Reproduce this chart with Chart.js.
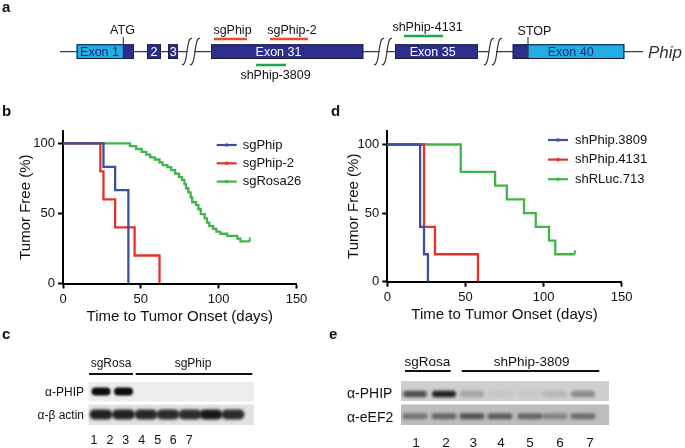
<!DOCTYPE html>
<html>
<head>
<meta charset="utf-8">
<script src="https://cdn.jsdelivr.net/npm/chart.js@4.4.0/dist/chart.umd.min.js"></script>
<style>
  html, body { margin: 0; padding: 0; background: #fff; }
  #fig { position: relative; width: 685px; height: 448px; overflow: hidden;
         font-family: "Liberation Sans", Arial, sans-serif; color: #111; }
  #fig canvas { position: absolute; }
  .t { position: absolute; white-space: nowrap; line-height: 1; }
</style>
</head>
<body>
<div id="fig">
  <canvas id="art" width="685" height="448" style="left:0;top:0"></canvas>
  <canvas id="chartB" width="340" height="210" style="left:0;top:120px"></canvas>
  <canvas id="chartD" width="345" height="210" style="left:340px;top:120px"></canvas>
</div>
<script>
// ---- data ----
const xTicks = [0, 50, 100, 150];
const yTicks = [0, 50, 100];

// panel b
const seriesB = ['sgPhip', 'sgPhip-2', 'sgRosa26'];
const sgPhipDays = [0, 26, 33.5, 42];
const sgPhipFree = [100, 83.3, 66.7, 0];
const sgPhip2Days = [0, 24, 26, 33.5, 46, 62];
const sgPhip2Free = [100, 80, 60, 40, 20, 0];
const sgRosaDays = [0, 43, 47, 50.5, 53.5, 56, 59, 62, 64, 67, 69.5, 72, 74.5, 76.5, 78, 79, 80.5, 82, 83, 85.5,
                    87, 88.5, 91, 92.5, 94, 96.5, 98.5, 101, 105.5, 112, 114, 120];
const sgRosaFree = [100, 98, 96, 94, 92, 90, 88.5, 86.5, 84.5, 83, 81, 78.5, 76, 74, 71, 68, 65, 61.5, 58, 56,
                    53, 49.5, 46.5, 43.5, 41, 39, 37, 35.5, 34, 32, 30, 30];

// panel d
const seriesD = ['shPhip.3809', 'shPhip.4131', 'shRLuc.713'];
const sh3809Days = [0, 21, 23.5, 26];
const sh3809Free = [100, 40, 20, 0];
const sh4131Days = [0, 23.5, 30.5, 58];
const sh4131Free = [100, 40, 20, 0];
const shRLucDays = [0, 47, 69, 76.5, 87.5, 95, 103.5, 107.5, 120];
const shRLucFree = [100, 80, 70, 60, 50, 40, 30, 20, 20];

// blots (band darkness 0..1, lanes 1-7)
const laneLabels = ['1', '2', '3', '4', '5', '6', '7'];
const cPhip = [1, 1, 0, 0, 0, 0, 0];
const cActin = [0.9, 0.9, 0.88, 0.85, 0.85, 0.95, 0.85];
const ePhip = [0.65, 0.9, 0.22, 0.05, 0.03, 0.12, 0.35];
const eEef2 = [0.42, 0.5, 0.6, 0.55, 0.5, 0.32, 0.45];

const colors = ['#3c4fa1', '#e8302a', '#40b54a'];

Chart.defaults.font.family = '"Liberation Sans", Arial, sans-serif';
Chart.defaults.color = '#111';

// legend drawn inside the plot area, GraphPad style
const legendInside = {
  id: 'legendInside',
  afterDatasetsDraw(chart, args, opts) {
    const ctx = chart.ctx;
    ctx.save();
    ctx.font = '13px "Liberation Sans", Arial, sans-serif';
    ctx.textBaseline = 'middle';
    chart.data.datasets.forEach((ds, i) => {
      const y = opts.top + i * opts.gap;
      ctx.strokeStyle = ds.borderColor;
      ctx.lineWidth = 2.2;
      ctx.beginPath();
      ctx.moveTo(opts.left, y);
      ctx.lineTo(opts.left + 20, y);
      ctx.stroke();
      ctx.fillStyle = ds.borderColor;
      ctx.beginPath();
      ctx.arc(opts.left + 10, y, 1.8, 0, Math.PI * 2);
      ctx.fill();
      ctx.fillStyle = '#111';
      ctx.fillText(ds.label, opts.left + opts.textGap, y);
    });
    ctx.restore();
  }
};

function makeDatasets(names, days, free, censorLast) {
  return names.map((name, k) => ({
    label: name,
    data: days[k].map((d, i) => ({ x: d, y: free[k][i] })),
    borderColor: colors[k],
    backgroundColor: colors[k],
    borderWidth: 2.3,
    stepped: 'before',
    fill: false,
    pointStyle: 'dash',
    pointRotation: -90,
    pointRadius: c => (censorLast[k] && c.dataIndex === days[k].length - 1) ? 4 : 0,
    pointBorderWidth: 2,
    pointBorderColor: colors[k],
    pointHoverRadius: 0
  }));
}

function kmChart(id, datasets, yMax, g) {
  return new Chart(document.getElementById(id), {
    type: 'line',
    data: { datasets: datasets },
    options: {
      responsive: false,
      animation: false,
      devicePixelRatio: 1,
      layout: { padding: { left: 0, top: g.top, right: g.right, bottom: 0 } },
      plugins: {
        legend: { display: false },
        tooltip: { enabled: false },
        legendInside: { left: g.legLeft, top: g.legTop, gap: g.legGap, textGap: g.textGap }
      },
      scales: {
        x: {
          type: 'linear', min: 0, max: 150,
          afterBuildTicks: s => { s.ticks = xTicks.map(v => ({ value: v })); },
          afterFit: s => { s.height = g.xH; },
          border: { display: true, color: '#000', width: 2 },
          grid: { display: true, drawOnChartArea: false, drawTicks: true, tickLength: 5, tickWidth: 2, tickColor: '#000' },
          ticks: { color: '#111', font: { size: 13 }, padding: 3, maxRotation: 0 },
          title: { display: true, text: 'Time to Tumor Onset (days)', color: '#111', font: { size: 15 },
                   padding: { top: 0, bottom: g.xTitlePad } }
        },
        y: {
          type: 'linear', min: 0, max: yMax,
          afterBuildTicks: s => { s.ticks = yTicks.map(v => ({ value: v })); },
          afterFit: s => { s.width = g.yW; },
          border: { display: true, color: '#000', width: 2 },
          grid: { display: true, drawOnChartArea: false, drawTicks: true, tickLength: 5, tickWidth: 2, tickColor: '#000' },
          ticks: { color: '#111', font: { size: 13 }, padding: 3 },
          title: { display: true, text: 'Tumor Free (%)', color: '#111', font: { size: 15 },
                   padding: { top: g.yTitlePad, bottom: 0 } }
        }
      }
    },
    plugins: [legendInside]
  });
}

kmChart('chartB',
  makeDatasets(seriesB, [sgPhipDays, sgPhip2Days, sgRosaDays], [sgPhipFree, sgPhip2Free, sgRosaFree], [false, false, true]),
  109,
  { top: 10, right: 43.5, yW: 63, xH: 46.5, xTitlePad: 4.3, yTitlePad: 17,
    legLeft: 216.7, legTop: 25, legGap: 18.3, textGap: 26 });

kmChart('chartD',
  makeDatasets(seriesD, [sh3809Days, sh4131Days, shRLucDays], [sh3809Free, sh4131Free, shRLucFree], [false, false, true]),
  110,
  { top: 6, right: 63.3, yW: 47.3, xH: 48.3, xTitlePad: 6, yTitlePad: 5,
    legLeft: 208, legTop: 20, legGap: 19.6, textGap: 27 });

// ---- panel a gene map and blots ----
const c = document.getElementById('art').getContext('2d');
const navy = '#2c2e8c', cyan = '#22aee4';

function drawGene() {
  const yMid = 51.7, top = 44.3, h = 14.7;
  c.strokeStyle = '#3a3a3a';
  c.lineWidth = 1.3;
  c.beginPath(); c.moveTo(60, yMid); c.lineTo(643, yMid); c.stroke();

  // breaks in the backbone
  [182, 374, 484].forEach(x => {
    c.fillStyle = '#fff';
    c.fillRect(x + 5, yMid - 2, 7, 4);
    c.strokeStyle = '#333';
    c.lineWidth = 1.2;
    [0, 8].forEach(o => {
      c.beginPath();
      c.moveTo(x + o + 10, 38.5);
      c.bezierCurveTo(x + o + 4, 36, x + o + 6, 67, x + o, 64.5);
      c.stroke();
    });
  });

  const exons = [[76.7, 134], [147, 161], [168, 178], [211, 363.3], [395, 478], [512.7, 624.3]];
  exons.forEach(([a, b]) => { c.fillStyle = navy; c.fillRect(a, top, b - a, h); });
  c.fillStyle = cyan;
  c.fillRect(76.7, top, 123.3 - 76.7, h);
  c.fillRect(527.7, top, 624.3 - 527.7, h);
  c.strokeStyle = '#1b1b3a';
  c.lineWidth = 1;
  exons.forEach(([a, b]) => c.strokeRect(a + 0.5, top + 0.5, b - a - 1, h - 1));

  // ATG / STOP ticks
  c.strokeStyle = '#222';
  c.beginPath();
  c.moveTo(123.3, 37); c.lineTo(123.3, top + h);
  c.moveTo(528, 37); c.lineTo(528, top + h);
  c.stroke();

  // guide / hairpin positions
  c.lineWidth = 2.5;
  const marks = [[214, 247, 39, '#ee4b26'], [270, 308, 39, '#ee4b26'], [256, 286, 65, '#1fa650'], [404, 443, 36, '#1fa650']];
  marks.forEach(([a, b, y, col]) => {
    c.strokeStyle = col;
    c.beginPath(); c.moveTo(a, y); c.lineTo(b, y); c.stroke();
  });
}

function drawBlot(x0, x1, y0, y1, bg, lanes, vals, bandY, bandW, bandH, blur) {
  c.save();
  c.beginPath(); c.rect(x0, y0, x1 - x0, y1 - y0); c.clip();
  c.fillStyle = bg;
  c.fillRect(x0, y0, x1 - x0, y1 - y0);
  c.filter = 'blur(' + blur + 'px)';
  lanes.forEach((lx, i) => {
    if (vals[i] <= 0) return;
    c.fillStyle = 'rgba(12,12,12,' + vals[i] + ')';
    c.beginPath();
    c.roundRect(lx - bandW / 2, bandY - bandH / 2, bandW, bandH, bandH / 2);
    c.fill();
  });
  c.restore();
}

function underline(a, b, y) {
  c.strokeStyle = '#111';
  c.lineWidth = 2;
  c.beginPath(); c.moveTo(a, y); c.lineTo(b, y); c.stroke();
}

drawGene();

const cLanes = [101, 123.5, 146, 168, 190, 211, 233];
drawBlot(88.3, 254.3, 381.7, 401.7, '#ececec', cLanes, cPhip, 391.5, 19, 8, 1.2);
drawBlot(88.3, 254.3, 404.3, 425, '#e2e2e2', cLanes, cActin, 414.5, 23, 10, 1.5);
underline(89, 133, 374);
underline(135.7, 252.3, 374);

const eLanes = [415, 444, 472, 500, 530, 555, 583];
drawBlot(401, 609.3, 381, 401, '#cfcfcf', eLanes, ePhip, 394, 24, 6.5, 1.6);
drawBlot(401, 609.3, 404.3, 425, '#bdbdbd', eLanes, eEef2, 416.3, 25, 6, 1.6);
underline(405, 450.7, 371);
underline(461.7, 599.3, 371);

// ---- text ----
const fig = document.getElementById('fig');
function label(text, x, y, o) {
  o = o || {};
  const d = document.createElement('div');
  d.className = 't';
  d.textContent = text;
  d.style.left = x + 'px';
  d.style.top = y + 'px';
  d.style.fontSize = (o.size || 12.5) + 'px';
  if (o.bold) d.style.fontWeight = 'bold';
  if (o.italic) d.style.fontStyle = 'italic';
  if (o.color) d.style.color = o.color;
  const ax = o.align === 'left' ? '0' : (o.align === 'right' ? '-100%' : '-50%');
  d.style.transform = 'translate(' + ax + ', -50%)';
  fig.appendChild(d);
}

label('a', 2, 6.2, { size: 15, bold: true, align: 'left' });
label('b', 2, 110, { size: 15, bold: true, align: 'left' });
label('c', 2, 332.7, { size: 15, bold: true, align: 'left' });
label('d', 331, 110, { size: 15, bold: true, align: 'left' });
label('e', 329, 332.7, { size: 15, bold: true, align: 'left' });

label('ATG', 122.5, 30);
label('sgPhip', 232.5, 30);
label('sgPhip-2', 292, 30);
label('shPhip-3809', 275.5, 75);
label('shPhip-4131', 427.5, 26.7);
label('STOP', 534.5, 30.7);
label('Exon 1', 99.5, 51.7, { color: '#1e2a70' });
label('2', 154, 51.7, { color: '#fff' });
label('3', 173.3, 51.7, { color: '#fff' });
label('Exon 31', 278.5, 51.7, { color: '#fff' });
label('Exon 35', 432.7, 51.7, { color: '#fff' });
label('Exon 40', 570.7, 51.7, { color: '#1e2a70' });
label('Phip', 648, 52, { size: 17, italic: true, align: 'left', color: '#333' });

label('sgRosa', 111, 363.3, { size: 12 });
label('sgPhip', 193, 363.3, { size: 12 });
label('\u03b1-PHIP', 84, 391.7, { size: 12, align: 'right' });
label('\u03b1-\u03b2 actin', 84, 415, { size: 12, align: 'right' });
const cNum = [94, 110, 125.7, 141.7, 157.7, 173.3, 189.3];
laneLabels.forEach((t, i) => label(t, cNum[i], 440, { size: 12.5 }));

label('sgRosa', 427.5, 361.7, { size: 13.5 });
label('shPhip-3809', 531.7, 361.7, { size: 13.5 });
label('\u03b1-PHIP', 347, 393.3, { size: 14, align: 'left' });
label('\u03b1-eEF2', 347, 416.7, { size: 14, align: 'left' });
const eNum = [416, 446, 473.3, 501, 530, 560, 590];
laneLabels.forEach((t, i) => label(t, eNum[i], 443.3, { size: 13.5 }));
</script>
</body>
</html>
